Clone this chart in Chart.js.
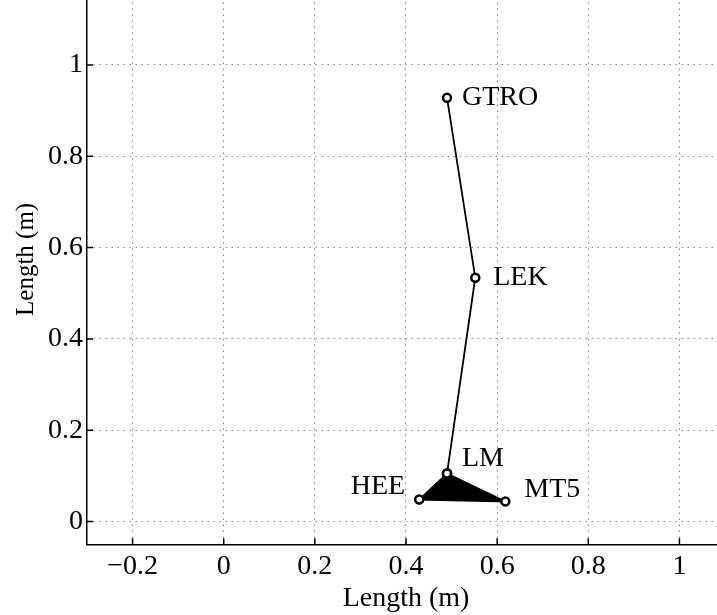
<!DOCTYPE html>
<html>
<head>
<meta charset="utf-8">
<script src="https://cdn.jsdelivr.net/npm/chart.js@4.4.1/dist/chart.umd.min.js"></script>
<style>
    html, body { margin: 0; padding: 0; background: #fff; overflow: hidden; }
    #wrap { position: absolute; left: 0; top: -10px; }
</style>
</head>
<body>
<div id="wrap"><canvas id="grafico" width="740" height="625"></canvas></div>
<script>
// Datos
const NOMBRES = ['GTRO', 'LEK', 'LM', 'HEE', 'MT5'];
const PUNTOS_X = [0.490, 0.552, 0.490, 0.429, 0.618];
const PUNTOS_Y = [0.928, 0.534, 0.105, 0.048, 0.044];
const CADENA = [0, 1, 2];        // GTRO - LEK - LM
const PIE = [2, 3, 4, 2];        // LM - HEE - MT5 (relleno)
const TICKS_X = [-0.2, 0, 0.2, 0.4, 0.6, 0.8, 1];
const TICKS_Y = [0, 0.2, 0.4, 0.6, 0.8, 1];
const RANGO_X = [-0.3, 1.1];
const RANGO_Y = [-0.05, 1.15];
const TITULO_X = 'Length (m)';
const TITULO_Y = 'Length (m)';

const FUENTE = 'Liberation Serif, Times New Roman, serif';

// desplazamientos de las etiquetas en pixeles
const OFFSET_ETIQUETAS = {
    GTRO: { dx: 15, dy: 0, align: 'left' },
    LEK: { dx: 18, dy: 0, align: 'left' },
    LM: { dx: 15, dy: -15, align: 'left' },
    HEE: { dx: -14, dy: -13, align: 'right' },
    MT5: { dx: 19, dy: -12, align: 'left' }
};

function puntos(indices) {
    return indices.map(i => ({ x: PUNTOS_X[i], y: PUNTOS_Y[i] }));
}

function formatoTick(v) {
    const s = String(Math.round(Math.abs(v) * 10) / 10);
    return v < 0 ? '\u2212' + s : s;
}

const etiquetasPlugin = {
    id: 'etiquetas',
    afterDatasetsDraw(chart) {
        const ctx = chart.ctx;
        const sx = chart.scales.x;
        const sy = chart.scales.y;
        ctx.save();
        ctx.font = '28px ' + FUENTE;
        ctx.fillStyle = '#000';
        ctx.textBaseline = 'middle';
        NOMBRES.forEach((n, i) => {
            const o = OFFSET_ETIQUETAS[n];
            ctx.textAlign = o.align;
            ctx.fillText(n, sx.getPixelForValue(PUNTOS_X[i]) + o.dx, sy.getPixelForValue(PUNTOS_Y[i]) + o.dy);
        });
        ctx.restore();
    }
};

// titulo del eje y, un poco mas arriba del centro como en la figura
const tituloY = {
    id: 'tituloY',
    afterDraw(chart) {
        const ctx = chart.ctx;
        const area = chart.chartArea;
        ctx.save();
        ctx.translate(26, (area.top + area.bottom) / 2 - 11);
        ctx.rotate(-Math.PI / 2);
        ctx.font = '25px ' + FUENTE;
        ctx.fillStyle = '#000';
        ctx.textAlign = 'center';
        ctx.textBaseline = 'middle';
        ctx.fillText(TITULO_Y, 0, 0);
        ctx.restore();
    }
};

// marcas de tick hacia adentro, estilo matlab
const ticksAdentro = {
    id: 'ticksAdentro',
    afterDraw(chart) {
        const ctx = chart.ctx;
        const area = chart.chartArea;
        const sx = chart.scales.x;
        const sy = chart.scales.y;
        ctx.save();
        ctx.strokeStyle = '#000';
        ctx.lineWidth = 1.5;
        ctx.beginPath();
        TICKS_X.forEach(v => {
            const px = sx.getPixelForValue(v);
            ctx.moveTo(px, area.bottom);
            ctx.lineTo(px, area.bottom - 6);
        });
        TICKS_Y.forEach(v => {
            const py = sy.getPixelForValue(v);
            ctx.moveTo(area.left, py);
            ctx.lineTo(area.left + 6, py);
        });
        ctx.stroke();
        ctx.restore();
    }
};

const ejeComun = {
    type: 'linear',
    border: { display: true, color: '#000', width: 1.5, dash: [1.5, 4.5] },
    grid: { color: '#8a8a8a', lineWidth: 1, drawTicks: false },
    ticks: {
        color: '#000',
        font: { family: FUENTE, size: 28 },
        callback: v => formatoTick(v)
    }
};

const estiloPunto = {
    showLine: true,
    borderColor: '#000',
    borderWidth: 1.8,
    pointRadius: 4,
    pointBorderWidth: 2.5,
    pointBorderColor: '#000',
    pointBackgroundColor: '#fff'
};

new Chart(document.getElementById('grafico').getContext('2d'), {
    type: 'scatter',
    data: {
        datasets: [
            { ...estiloPunto, data: puntos(PIE), fill: 'shape', backgroundColor: '#000' },
            { ...estiloPunto, data: puntos(CADENA), fill: false }
        ]
    },
    options: {
        responsive: false,
        animation: false,
        layout: { padding: { top: 0, right: 15, left: 0, bottom: 0 } },
        plugins: { legend: { display: false }, tooltip: { enabled: false } },
        scales: {
            x: {
                ...ejeComun,
                position: 'bottom',
                min: RANGO_X[0],
                max: RANGO_X[1],
                ticks: { ...ejeComun.ticks, padding: 6, maxRotation: 0, autoSkip: false },
                title: {
                    display: true,
                    text: TITULO_X,
                    color: '#000',
                    font: { family: FUENTE, size: 28 },
                    padding: { top: -12, bottom: 0 }
                },
                afterBuildTicks: s => { s.ticks = TICKS_X.map(v => ({ value: v })); },
                afterFit: s => {
                    s.height = 625 - 554.3;
                    s.paddingLeft = 0;
                    s.paddingRight = 0;
                }
            },
            y: {
                ...ejeComun,
                position: 'left',
                min: RANGO_Y[0],
                max: RANGO_Y[1],
                ticks: { ...ejeComun.ticks, padding: 4 },
                title: { display: false },
                afterBuildTicks: s => { s.ticks = TICKS_Y.map(v => ({ value: v })); },
                afterFit: s => {
                    s.width = 87;
                    s.paddingTop = 0;
                    s.paddingBottom = 0;
                }
            }
        }
    },
    plugins: [etiquetasPlugin, ticksAdentro, tituloY]
});
</script>
</body>
</html>
